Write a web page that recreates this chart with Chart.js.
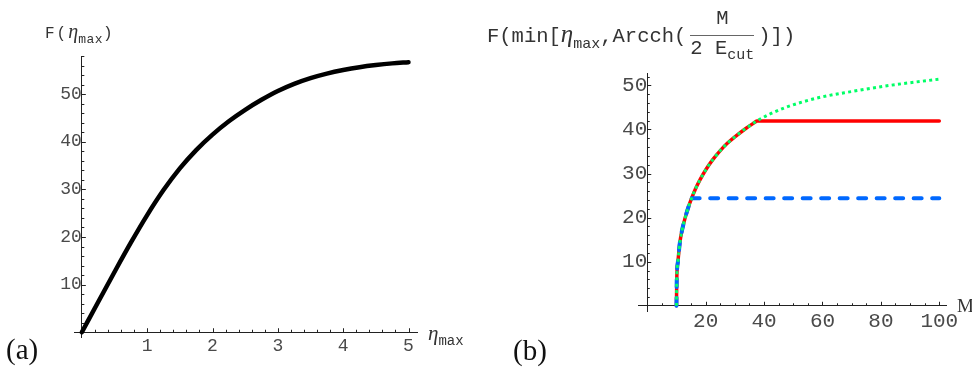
<!DOCTYPE html>
<html>
<head>
<meta charset="utf-8">
<script src="https://cdn.jsdelivr.net/npm/chart.js@4.4.0/dist/chart.umd.min.js"></script>
<style>
  body { margin: 0; width: 972px; height: 381px; background: #fff; position: relative; overflow: hidden;
         font-family: "Liberation Mono", "DejaVu Sans Mono", monospace; color: #333; }
  canvas { position: absolute; top: 0; }
  .t { position: absolute; white-space: nowrap; line-height: 1; }
  .eta { font-family: "Liberation Serif", serif; font-style: italic; }
  .sub { position: relative; top: 0.35em; }
  .lab { font-family: "Liberation Serif", serif; font-size: 29px; color: #111; }
  .fr { display: inline-block; vertical-align: middle; text-align: center; position: relative; top: -3px; margin: 0 4px; }
  .fr .num { display: block; padding: 0 3px 5px 3px; border-bottom: 1px solid #666; }
  .fr .den { display: block; padding-top: 3px; }
</style>
</head>
<body>
<canvas id="chartA" width="480" height="381" style="left:0"></canvas>
<canvas id="chartB" width="492" height="381" style="left:480px"></canvas>

<div class="t" style="left:45px;top:21px;font-size:16px;letter-spacing:2px">F(<span class="eta" style="font-size:20px;letter-spacing:0">η</span><span class="sub" style="font-size:13px;letter-spacing:0.5px">max</span>)</div>
<div class="t" style="left:428px;top:323px"><span class="eta" style="font-size:21px">η</span><span class="sub" style="font-size:14px">max</span></div>
<div class="t lab" style="left:6px;top:335px">(a)</div>

<div class="t" style="left:487px;top:12px;font-size:20.5px">F(min[<span class="eta" style="font-size:25px">η</span><span class="sub" style="font-size:15px">max</span>,Arcch(<span class="fr"><span class="num">M</span><span class="den">2 E<span class="sub" style="font-size:15px">cut</span></span></span>)])</div>
<div class="t" style="left:957px;top:296px;font-size:19px;font-family:'Liberation Serif',serif">M</div>
<div class="t lab" style="left:513px;top:336px">(b)</div>

<script>
// panel (a): F(eta_max)
var etaA = [0, 0.25, 0.5, 0.75, 1, 1.25, 1.5, 1.75, 2, 2.25, 2.5, 2.75, 3, 3.25, 3.5, 3.75, 4, 4.25, 4.5, 4.75, 5];
var fA   = [0, 6.35, 12.65, 18.8, 24.6, 29.85, 34.4, 38.25, 41.5, 44.3, 46.7, 48.8, 50.65, 52.15, 53.35, 54.3, 55.05, 55.65, 56.1, 56.45, 56.7];
var xTicksA = [1, 2, 3, 4, 5];
var yTicksA = [10, 20, 30, 40, 50];

// panel (b): F(min[eta_max, Arcch(M / 2 Ecut)]); null = corner where the plateau starts
var mGreen = [10, 10.1, 10.5, 11.2, 12, 13, 14, 15.2, 16.5, 18, 20, 22.5, 25, 27.5, 30, 33.5, 37.5, 42, 47, 53, 60, 70, 80, 90, 100];
var fGreen = [0, 6, 10, 14.5, 17.4, 20.0, 22.2, 24.4, 26.5, 28.5, 30.8, 33.2, 35.2, 36.9, 38.3, 40.1, 41.9, 43.5, 44.9, 46.2, 47.4, 48.6, 49.7, 50.6, 51.4];
var mRed = [10, 10.1, 10.5, 11.2, 12, 13, 14, 15.2, 16.5, 18, 20, 22.5, 25, 27.5, 30, 33.5, 37.5, 37.5, 37.5, 100];
var fRed = [0, 6, 10, 14.5, 17.4, 20.0, 22.2, 24.4, 26.5, 28.5, 30.8, 33.2, 35.2, 36.9, 38.3, 40.1, 41.9, null, 41.9, 41.9];
var mBlue = [10, 10.1, 10.5, 11.2, 12, 13, 14, 15.2, 15.2, 15.2, 100];
var fBlue = [0, 6, 10, 14.5, 17.4, 20.0, 22.2, 24.4, null, 24.4, 24.4];
var xTicksB = [20, 40, 60, 80, 100];
var yTicksB = [10, 20, 30, 40, 50];

function pts(xs, ys) {
    return xs.map(function (x, i) { return {x: x, y: ys[i]}; });
}

// small inward tick marks, Mathematica style
var inwardTicks = {
    id: 'inwardTicks',
    beforeDatasetsDraw: function (chart, args, opts) {
        var ctx = chart.ctx;
        var sx = chart.scales.x, sy = chart.scales.y;
        var x0 = sx.getPixelForValue(0), y0 = sy.getPixelForValue(0);
        ctx.save();
        ctx.strokeStyle = '#222';
        ctx.lineWidth = 1;
        ctx.beginPath();
        var i, v, p, len;
        for (i = 1; i * opts.xMinor <= sx.max + 1e-9; i++) {
            v = i * opts.xMinor;
            len = Math.abs(v / opts.xMajor - Math.round(v / opts.xMajor)) < 1e-6 ? 4 : 2.5;
            p = Math.round(sx.getPixelForValue(v)) + 0.5;
            ctx.moveTo(p, y0);
            ctx.lineTo(p, y0 - len);
        }
        for (i = 1; i * opts.yMinor <= sy.max + 1e-9; i++) {
            v = i * opts.yMinor;
            len = Math.abs(v / opts.yMajor - Math.round(v / opts.yMajor)) < 1e-6 ? 4 : 2.5;
            p = Math.round(sy.getPixelForValue(v)) + 0.5;
            ctx.moveTo(x0, p);
            ctx.lineTo(x0 + len, p);
        }
        ctx.stroke();
        ctx.restore();
    }
};

function axis(pos, min, max, ticks, size, pad) {
    return {
        type: 'linear',
        position: pos,
        min: min,
        max: max,
        afterBuildTicks: function (s) {
            s.ticks = ticks.map(function (v) { return {value: v}; });
        },
        grid: {display: false, drawTicks: false},
        border: {display: true, color: '#222', width: 1},
        ticks: {
            font: {family: 'Liberation Mono', size: size},
            color: '#4a4a4a',
            padding: pad,
            maxRotation: 0,
            autoSkip: false
        }
    };
}

var common = {
    responsive: false,
    animation: false,
    devicePixelRatio: 1,
    events: []
};

new Chart(document.getElementById('chartA'), {
    type: 'line',
    data: {
        datasets: [{
            data: pts(etaA, fA),
            borderColor: '#000',
            borderWidth: 4.5,
            borderCapStyle: 'round',
            pointRadius: 0,
            cubicInterpolationMode: 'monotone',
            fill: false
        }]
    },
    options: Object.assign({}, common, {
        layout: {padding: {left: 74, top: 56, right: 63, bottom: 44}},
        plugins: {
            legend: {display: false},
            tooltip: {enabled: false},
            inwardTicks: {xMajor: 1, xMinor: 0.2, yMajor: 10, yMinor: 2}
        },
        scales: {
            x: axis({y: 0}, -0.12, 5.13, xTicksA, 18, 3),
            y: axis({x: 0}, -1, 58, yTicksA, 18, 8)
        }
    }),
    plugins: [inwardTicks]
});

new Chart(document.getElementById('chartB'), {
    type: 'line',
    data: {
        datasets: [{
            // green dotted, drawn on top
            data: pts(mGreen, fGreen),
            borderColor: '#00ff66',
            borderWidth: 3,
            borderDash: [3, 3.3],
            pointRadius: 0,
            cubicInterpolationMode: 'monotone',
            fill: false
        }, {
            data: pts(mBlue, fBlue),
            borderColor: '#0068ff',
            borderWidth: 4,
            borderDash: [8, 10.5],
            borderCapStyle: 'round',
            pointRadius: 0,
            cubicInterpolationMode: 'monotone',
            fill: false
        }, {
            data: pts(mRed, fRed),
            borderColor: '#ff0000',
            borderWidth: 3.5,
            borderCapStyle: 'round',
            pointRadius: 0,
            cubicInterpolationMode: 'monotone',
            fill: false
        }]
    },
    options: Object.assign({}, common, {
        layout: {padding: {left: 158.5, top: 73, right: 25.4, bottom: 69.5}},
        plugins: {
            legend: {display: false},
            tooltip: {enabled: false},
            inwardTicks: {xMajor: 20, xMinor: 5, yMajor: 10, yMinor: 2}
        },
        scales: {
            x: axis({y: 0}, -3, 102.5, xTicksB, 21, 3),
            y: axis({x: 0}, -1.3, 52.8, yTicksB, 21, 6)
        }
    }),
    plugins: [inwardTicks]
});
</script>
</body>
</html>
